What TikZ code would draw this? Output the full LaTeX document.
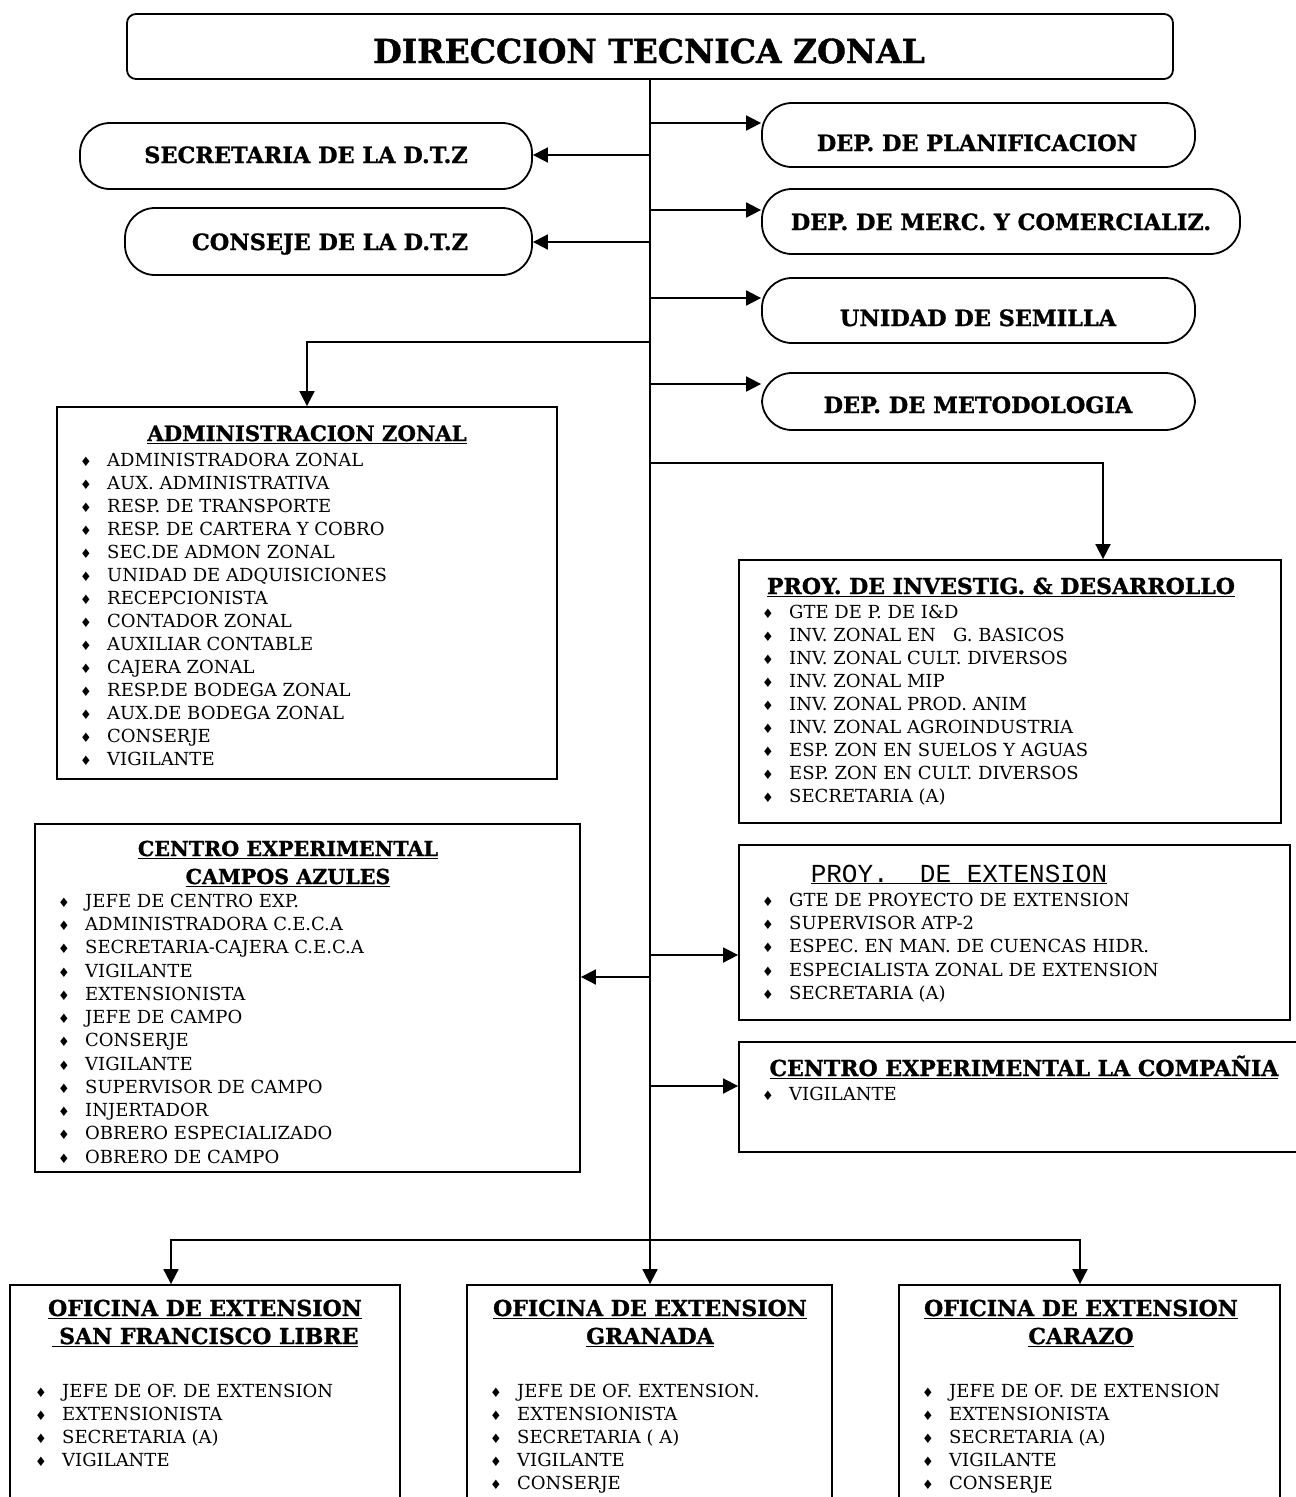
\documentclass[tikz,border=0pt]{standalone}
\usepackage{fontspec}
\setmainfont[BoldFeatures={FakeBold=1.2}]{DejaVu Serif}
\newfontfamily\symfont{DejaVu Sans}
\newfontfamily\pextfont{Liberation Mono}
\usetikzlibrary{arrows.meta,positioning,calc}

\newcommand{\bul}{\makebox[27pt][l]{\symfont\fontsize{13}{13}\selectfont\char"2666}}

\tikzset{
  line/.style={line width=1.8pt},
  arr/.style={line width=1.8pt, -{Triangle[length=15pt,width=15pt]}},
  bubble/.style={draw, line width=1.8pt, rounded corners=30pt, inner sep=0pt},
  topbox/.style={draw, line width=1.8pt, rounded corners=9pt, inner sep=0pt},
  box/.style={draw, line width=1.8pt, inner sep=0pt},
  btext/.style={anchor=base, inner sep=0pt, font=\bfseries\fontsize{22.4}{22.4}\selectfont},
  head/.style={anchor=base, inner sep=0pt, font=\bfseries\fontsize{22}{22}\selectfont},
  item/.style={anchor=base west, inner sep=0pt, font=\fontsize{18}{18}\selectfont},
}

\begin{document}
\begin{tikzpicture}[x=1pt, y=-1pt]
\useasboundingbox (0,0) rectangle (1296,1497);

% direccion
\node[topbox, minimum width=1046pt, minimum height=65pt] (dtz) at (650,46.5) {};
\node[anchor=base, inner sep=0pt, font=\bfseries\fontsize{33}{33}\selectfont] (dtzt) at (649,63) {DIRECCION TECNICA ZONAL};

% bubbles left
\node[bubble, minimum width=452pt, minimum height=66pt] (sec) at (306,156) {};
\node[btext] (sect) at (306,163) {SECRETARIA DE LA D.T.Z};
\node[bubble, minimum width=407pt, minimum height=67pt] (cons) at (328.5,241.5) {};
\node[btext] (const) at (330,250) {CONSEJE DE LA D.T.Z};

% bubbles right
\node[bubble, minimum width=433pt, minimum height=64pt] (plan) at (978.5,135) {};
\node[btext] (plant) at (977,151) {DEP. DE PLANIFICACION};
\node[bubble, minimum width=478pt, minimum height=65pt] (merc) at (1001,221.5) {};
\node[btext] (merct) at (1001,230) {DEP. DE MERC. Y COMERCIALIZ.};
\node[bubble, minimum width=433pt, minimum height=65pt] (sem) at (978.5,310.5) {};
\node[btext] (semt) at (978,326) {UNIDAD DE SEMILLA};
\node[bubble, minimum width=433pt, minimum height=57pt] (met) at (978.5,401.5) {};
\node[btext] (mett) at (978,413) {DEP. DE METODOLOGIA};

% administracion zonal
\node[box, minimum width=500pt, minimum height=372pt] (az) at (307,593) {};
\node[head, font=\bfseries\fontsize{21.2}{21.2}\selectfont] (azt) at (307,441) {\underline{ADMINISTRACION ZONAL}};
\foreach \t [count=\i] in {ADMINISTRADORA ZONAL, AUX. ADMINISTRATIVA, RESP. DE TRANSPORTE,
  RESP. DE CARTERA Y COBRO, SEC.DE ADMON ZONAL, UNIDAD DE ADQUISICIONES, RECEPCIONISTA,
  CONTADOR ZONAL, AUXILIAR CONTABLE, CAJERA ZONAL, RESP.DE BODEGA ZONAL,
  AUX.DE BODEGA ZONAL, CONSERJE, VIGILANTE}
  \node[item] (az\i) at (80,443+23*\i) {\bul\t};

% proy. de investig.
\node[box, minimum width=542pt, minimum height=263pt] (pid) at (1010,691.5) {};
\node[head] (pidt) at (1001,594) {\underline{PROY. DE INVESTIG. \& DESARROLLO}};
\foreach \t [count=\i] in {GTE DE P. DE I\&D, INV. ZONAL EN\ \ \ G. BASICOS,
  INV. ZONAL CULT. DIVERSOS, INV. ZONAL MIP, INV. ZONAL PROD. ANIM,
  INV. ZONAL AGROINDUSTRIA, ESP. ZON EN SUELOS Y AGUAS,
  ESP. ZON EN CULT. DIVERSOS, SECRETARIA (A)}
  \node[item] (pid\i) at (762,595+23.1*\i) {\bul\t};

% centro experimental campos azules
\node[box, minimum width=545pt, minimum height=348pt] (cca) at (307.5,998) {};
\node[head, font=\bfseries\fontsize{20.6}{20.6}\selectfont] (cca1) at (288,856) {\underline{CENTRO EXPERIMENTAL}};
\node[head, font=\bfseries\fontsize{20.6}{20.6}\selectfont] (cca2) at (288,884) {\underline{CAMPOS AZULES}};
\foreach \t [count=\i] in {JEFE DE CENTRO EXP., ADMINISTRADORA C.E.C.A,
  SECRETARIA-CAJERA C.E.C.A, VIGILANTE, EXTENSIONISTA, JEFE DE CAMPO, CONSERJE,
  VIGILANTE, SUPERVISOR DE CAMPO, INJERTADOR, OBRERO ESPECIALIZADO, OBRERO DE CAMPO}
  \node[item] (cca\i x) at (58,884+23.27*\i) {\bul\t};

% proy. de extension
\node[box, minimum width=551pt, minimum height=175pt] (pext) at (1014.5,932.5) {};
\node[anchor=base, inner sep=0pt, font=\pextfont\fontsize{26}{26}\selectfont] (pextt) at (959,882) {\underline{PROY.\ \ DE EXTENSION}};
\foreach \t [count=\i] in {GTE DE PROYECTO DE EXTENSION, SUPERVISOR ATP-2,
  ESPEC. EN MAN. DE CUENCAS HIDR., ESPECIALISTA ZONAL DE EXTENSION, SECRETARIA (A)}
  \node[item] (pext\i) at (762,883+23.25*\i) {\bul\t};

% centro experimental la compania
\node[box, minimum width=580pt, minimum height=110pt] (lac) at (1029,1097) {};
\node[head] (lact) at (1024,1076) {\underline{CENTRO EXPERIMENTAL LA COMPAÑIA}};
\node[item] (lac1) at (762,1100) {\bul VIGILANTE};

% oficinas de extension
\node[box, minimum width=390pt, minimum height=230pt] (ofsf) at (205,1400) {};
\node[head] (ofsf1) at (205,1316) {\underline{OFICINA DE EXTENSION}};
\node[head] (ofsf2) at (205,1344) {\underline{\ SAN FRANCISCO LIBRE}};
\foreach \t [count=\i] in {JEFE DE OF. DE EXTENSION, EXTENSIONISTA, SECRETARIA (A), VIGILANTE}
  \node[item] (ofsf\i x) at (35,1374+23*\i) {\bul\t};

\node[box, minimum width=365pt, minimum height=230pt] (ofg) at (649.5,1400) {};
\node[head] (ofg1) at (650,1316) {\underline{OFICINA DE EXTENSION}};
\node[head] (ofg2) at (650,1344) {\underline{GRANADA}};
\foreach \t [count=\i] in {JEFE DE OF. EXTENSION., EXTENSIONISTA, SECRETARIA ( A), VIGILANTE, CONSERJE}
  \node[item] (ofg\i x) at (490,1374+23*\i) {\bul\t};

\node[box, minimum width=381pt, minimum height=230pt] (ofc) at (1089.5,1400) {};
\node[head] (ofc1) at (1081,1316) {\underline{OFICINA DE EXTENSION}};
\node[head] (ofc2) at (1081,1344) {\underline{CARAZO}};
\foreach \t [count=\i] in {JEFE DE OF. DE EXTENSION, EXTENSIONISTA, SECRETARIA (A), VIGILANTE, CONSERJE}
  \node[item] (ofc\i x) at (922,1374+23*\i) {\bul\t};

% connectors
\coordinate (spb) at (650,1240);
\draw[line] (dtz.south -| spb) -- (spb);
\coordinate (s1) at (650,123);
\coordinate (s2) at (650,155);
\coordinate (s3) at (650,210);
\coordinate (s4) at (650,242);
\coordinate (s5) at (650,298);
\coordinate (s6) at (650,342);
\coordinate (s7) at (650,384);
\coordinate (s8) at (650,463);
\coordinate (s9) at (650,955);
\coordinate (s10) at (650,977);
\coordinate (s11) at (650,1086);
\draw[arr] (s1) -- (s1 -| plan.west);
\draw[arr] (s2) -- (s2 -| sec.east);
\draw[arr] (s3) -- (s3 -| merc.west);
\draw[arr] (s4) -- (s4 -| cons.east);
\draw[arr] (s5) -- (s5 -| sem.west);
\draw[arr] (s6) -| (az.north);
\draw[arr] (s7) -- (s7 -| met.west);
\draw[arr] (s8) -| ([xshift=93pt]pid.north);
\draw[arr] (s9) -- (s9 -| pext.west);
\draw[arr] (s10) -- (s10 -| cca.east);
\draw[arr] (s11) -- (s11 -| lac.west);
\draw[arr] (spb) -| ([xshift=-34pt]ofsf.north);
\draw[arr] (spb) -- (ofg.north -| spb);
\draw[arr] (spb) -| ([xshift=-9.5pt]ofc.north);

\end{tikzpicture}
\end{document}
